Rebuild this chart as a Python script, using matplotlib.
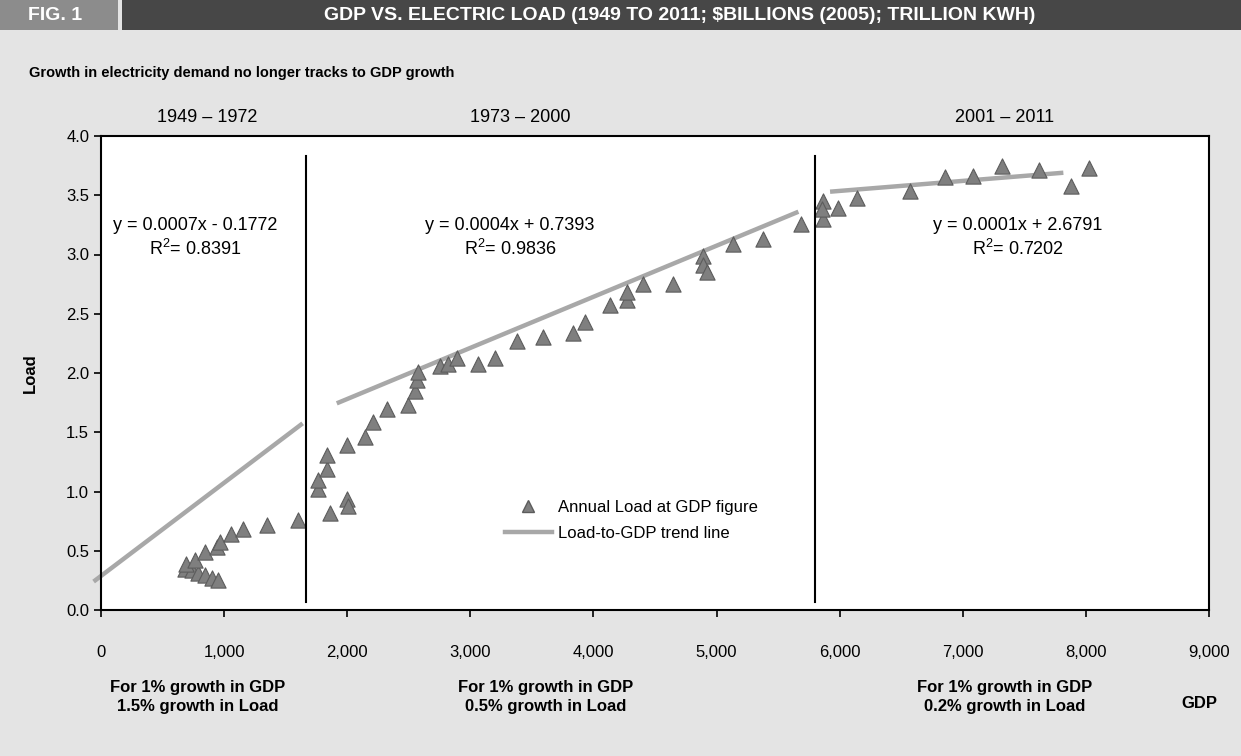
import matplotlib.pyplot as plt
from matplotlib.patches import Rectangle
from matplotlib.lines import Line2D

plt.rcParams['font.family'] = ['Liberation Sans Narrow', 'Liberation Sans', 'DejaVu Sans']

# GDP ($Billions 2005) and load (trillion kWh)
gdp_1949_1972 = [682, 737, 790, 845, 899, 953, 690, 764, 845, 940, 967, 1054, 1156, 1351, 1603]
load_1949_1972 = [0.35, 0.34, 0.31, 0.295, 0.27, 0.25, 0.39, 0.42, 0.49, 0.53, 0.57, 0.64, 0.68, 0.72, 0.76]

gdp_1973_2000 = [1765, 1765, 1833, 1833, 1860, 1996, 2009, 1996, 2145, 2212, 2321, 2496, 2551,
                 2565, 2578, 2754, 2821, 2890, 3065, 3201, 3377, 3593, 3837, 3932, 4135, 4270,
                 4270, 4405, 4649, 4893, 4893, 4920, 5136, 5380, 5684]
load_1973_2000 = [1.02, 1.10, 1.19, 1.31, 0.82, 0.94, 0.88, 1.39, 1.46, 1.59, 1.70, 1.73, 1.85,
                  1.94, 2.01, 2.06, 2.08, 2.13, 2.08, 2.13, 2.27, 2.30, 2.34, 2.43, 2.57, 2.62,
                  2.68, 2.75, 2.75, 2.99, 2.91, 2.85, 3.09, 3.13, 3.26]

gdp_2001_2011 = [5868, 5868, 5855, 5989, 6144, 6572, 6856, 7086, 7322, 7620, 7877, 8026]
load_2001_2011 = [3.45, 3.30, 3.38, 3.39, 3.48, 3.54, 3.65, 3.66, 3.75, 3.71, 3.58, 3.73]

# trend line end points
trend_x = [[-60, 1638], [1915, 5665], [5922, 7817]]
trend_y = [[0.24, 1.575], [1.744, 3.361], [3.53, 3.69]]

dividers = [1669, 5800]
periods = ['1949 \u2013 1972', '1973 \u2013 2000', '2001 \u2013 2011']
equations = ['y = 0.0007x - 0.1772', 'y = 0.0004x + 0.7393', 'y = 0.0001x + 2.6791']
r_squared = ['0.8391', '0.9836', '0.7202']
notes = ['For 1% growth in GDP\n1.5% growth in Load',
         'For 1% growth in GDP\n0.5% growth in Load',
         'For 1% growth in GDP\n0.2% growth in Load']

W, H = 1241, 756
bg = '#e4e4e4'
fig = plt.figure(figsize=(W / 100, H / 100), dpi=100, facecolor=bg)

def fx(px):
    return px / W

def fy(py):
    return 1 - py / H

# header bar
fig.patches.append(Rectangle((0, fy(30)), fx(118), 30 / H, transform=fig.transFigure,
                             facecolor='#8c8c8c', edgecolor='none'))
fig.patches.append(Rectangle((fx(122), fy(30)), 1 - fx(122), 30 / H, transform=fig.transFigure,
                             facecolor='#474747', edgecolor='none'))
fig.text(fx(55), fy(15), 'FIG. 1', color='white', fontsize=14, fontweight='bold',
         ha='center', va='center')
fig.text(fx(680), fy(15), 'GDP VS. ELECTRIC LOAD (1949 TO 2011; $BILLIONS (2005); TRILLION KWH)',
         color='white', fontsize=14, fontweight='bold', ha='center', va='center')
fig.text(fx(29), fy(73), 'Growth in electricity demand no longer tracks to GDP growth',
         fontsize=10.5, fontweight='bold', ha='left', va='center')

ax = fig.add_axes([fx(101), fy(610), fx(1209) - fx(101), (610 - 136) / H])
ax.set_facecolor('white')
ax.set_xlim(0, 9000)
ax.set_ylim(0, 4.0)
ax.set_xticks(range(0, 9001, 1000))
ax.set_xticklabels([f'{v:,}' for v in range(0, 9001, 1000)])
ax.set_yticks([i * 0.5 for i in range(9)])
ax.set_yticklabels([f'{i * 0.5:.1f}' for i in range(9)])
ax.tick_params(direction='out', length=5, width=1.2, labelsize=12, colors='black')
ax.tick_params(axis='x', pad=20)
for s in ax.spines.values():
    s.set_linewidth(1.5)

for xs, ys in zip(trend_x, trend_y):
    ax.plot(xs, ys, color='#a8a8a8', lw=3.2, solid_capstyle='butt', clip_on=False, zorder=2)

for gx, ly in [(gdp_1949_1972, load_1949_1972), (gdp_1973_2000, load_1973_2000),
               (gdp_2001_2011, load_2001_2011)]:
    ax.scatter(gx, ly, marker='^', s=120, facecolor='#7f7f7f', edgecolor='#5c5c5c',
               linewidth=0.8, zorder=3)

for d in dividers:
    ax.plot([d, d], [0.07, 3.83], color='black', lw=1.5, zorder=4)

# period labels above the plot
for px, label in zip([207, 520, 1005], periods):
    fig.text(fx(px), fy(117), label, fontsize=13, ha='center', va='center')

# regression equations
for px, eq, r2 in zip([195, 510, 1018], equations, r_squared):
    fig.text(fx(px), fy(225), eq, fontsize=13, ha='center', va='center')
    fig.text(fx(px), fy(249), r'R$^\mathregular{2}$= ' + r2, fontsize=13, ha='center', va='center')

# footnotes under the axis
for px, note in zip([198, 546, 1005], notes):
    fig.text(fx(px), fy(697), note, fontsize=12, fontweight='bold', ha='center', va='center',
             linespacing=1.35)
fig.text(fx(1199), fy(703), 'GDP', fontsize=12, fontweight='bold', ha='center', va='center')
fig.text(fx(30), fy(373), 'Load', fontsize=12, fontweight='bold', rotation=90,
         ha='center', va='center')

handles = [Line2D([], [], marker='^', ls='none', markersize=8, markerfacecolor='#7f7f7f',
                  markeredgecolor='#5c5c5c'),
           Line2D([], [], color='#a8a8a8', lw=3.2)]
ax.legend(handles, ['Annual Load at GDP figure', 'Load-to-GDP trend line'],
          loc='upper left', bbox_to_anchor=((505 - 101) / 1108, (610 - 500) / 474),
          frameon=False, fontsize=12, handlelength=2.8, handletextpad=0.4,
          labelspacing=0.65, borderpad=0, borderaxespad=0)

fig.savefig('out.png', dpi=100, facecolor=bg)
